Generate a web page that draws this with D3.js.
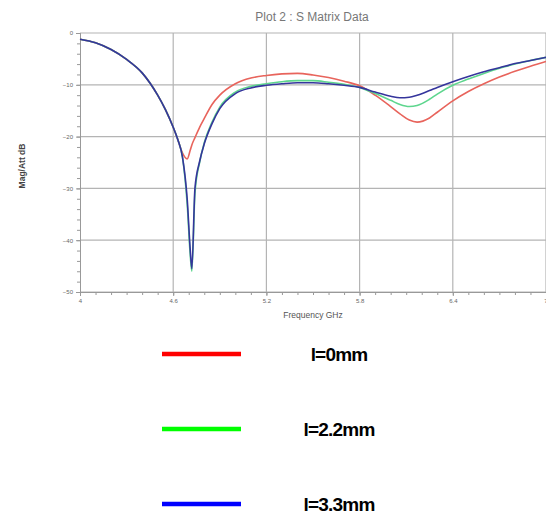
<!DOCTYPE html>
<html>
<head>
<meta charset="utf-8">
<script src="https://cdn.jsdelivr.net/npm/d3@7"></script>
<style>
  body { margin: 0; background: #fff; }
  svg { display: block; }
</style>
</head>
<body>
<svg width="546" height="515"></svg>
<script>
// frequency points (GHz) shared by all three curves
let freq = [4.0, 4.1, 4.2, 4.3, 4.4, 4.5, 4.55, 4.6, 4.63, 4.66, 4.69, 4.71, 4.72, 4.74, 4.77, 4.8, 4.85, 4.9,
  5.0, 5.1, 5.2, 5.3, 5.4, 5.5, 5.6, 5.7, 5.8, 5.9, 6.0, 6.06, 6.12, 6.17, 6.25, 6.3, 6.4, 6.5, 6.6, 6.7, 6.8, 6.9, 7.0];

let l0 = [-1.2, -1.9, -3.2, -5.1, -7.7, -12.0, -14.8, -18.2, -20.6, -23.2, -24.3, -22.6, -21.6, -20.2, -18.2, -16.5, -13.8, -12.0,
  -9.8, -8.7, -8.2, -7.9, -7.8, -8.1, -8.6, -9.3, -10.2, -12.0, -14.2, -15.6, -16.8, -17.2, -16.4, -15.3, -13.1, -11.3, -9.8, -8.5, -7.4, -6.4, -5.5];
let l22 = [-1.2, -1.9, -3.2, -5.1, -7.7, -12.0, -14.8, -18.2, -20.6, -24.0, -33.0, -43.0, -46.0, -31.0, -25.0, -21.2, -17.2, -14.3,
  -11.4, -10.3, -9.8, -9.4, -9.2, -9.2, -9.5, -9.9, -10.5, -11.7, -13.0, -13.8, -14.2, -14.0, -12.8, -11.8, -10.1, -8.9, -7.8, -6.8, -6.0, -5.3, -4.7];
let l33 = [-1.2, -1.9, -3.2, -5.1, -7.7, -12.0, -14.8, -18.2, -20.6, -24.0, -32.0, -42.0, -45.5, -30.0, -24.8, -21.4, -17.5, -14.6,
  -11.7, -10.6, -10.1, -9.8, -9.6, -9.6, -9.8, -10.1, -10.5, -11.4, -12.2, -12.5, -12.4, -12.0, -11.1, -10.5, -9.4, -8.4, -7.5, -6.7, -5.9, -5.3, -4.7];

let seriesNames = ['l=0mm', 'l=2.2mm', 'l=3.3mm'];
let xTicks = [4, 4.6, 5.2, 5.8, 6.4, 7];
let yTicks = [0, -10, -20, -30, -40, -50];

let lineColors = ['#e8645c', '#5ed68e', '#35359c'];
let legendColors = ['#ff0000', '#00ff00', '#0000ff'];

let svg = d3.select('svg');

let x = d3.scaleLinear().domain([4, 7]).range([80, 546]);
let y = d3.scaleLinear().domain([0, -50]).range([33, 292]);

// grid
svg.append('g').selectAll('line').data(xTicks.slice(1)).join('line')
  .attr('x1', d => x(d)).attr('x2', d => x(d))
  .attr('y1', y(0)).attr('y2', y(-50))
  .attr('stroke', '#b4b4b4').attr('stroke-width', 1.2);
svg.append('g').selectAll('line').data(yTicks).join('line')
  .attr('x1', x(4)).attr('x2', x(7))
  .attr('y1', d => y(d)).attr('y2', d => y(d))
  .attr('stroke', '#b4b4b4').attr('stroke-width', 1.2);

// axes with minor ticks
let yAxisMinor = d3.axisLeft(y).tickValues(d3.range(0, -51, -2)).tickSize(3).tickFormat('');
let yAxis = d3.axisLeft(y).tickValues(yTicks).tickSize(4).tickFormat(d3.format('d'));
let xAxisMinor = d3.axisBottom(x).tickValues(d3.range(40, 71, 1).map(d => d / 10)).tickSize(3).tickFormat('');
let xAxis = d3.axisBottom(x).tickValues(xTicks).tickSize(4).tickFormat(d => d);

function styleAxis(g) {
  g.select('.domain').attr('stroke', '#999');
  g.selectAll('.tick line').attr('stroke', '#999');
  g.selectAll('text').attr('fill', '#666').style('font-family', 'Liberation Sans, Arial, sans-serif').style('font-size', '6px');
}

svg.append('g').attr('transform', `translate(${x(4)},0)`).call(yAxisMinor).call(styleAxis);
svg.append('g').attr('transform', `translate(${x(4)},0)`).call(yAxis).call(styleAxis);
svg.append('g').attr('transform', `translate(0,${y(-50)})`).call(xAxisMinor).call(styleAxis);
let xg = svg.append('g').attr('transform', `translate(0,${y(-50)})`).call(xAxis).call(styleAxis);
// keep the last label inside the window
xg.selectAll('.tick text').filter(d => d === 7).attr('text-anchor', 'end').attr('dx', 1);

// curves
let line = d3.line().x((d, i) => x(freq[i])).y(d => y(d)).curve(d3.curveMonotoneX);
[l0, l22, l33].forEach(function (vals, i) {
  svg.append('path')
    .attr('d', line(vals))
    .attr('fill', 'none')
    .attr('stroke', lineColors[i])
    .attr('stroke-width', 1.6);
});

// titles
svg.append('text').attr('x', 312).attr('y', 21).attr('text-anchor', 'middle')
  .attr('fill', '#777').style('font-family', 'Liberation Sans, Arial, sans-serif').style('font-size', '12px')
  .text('Plot 2 : S Matrix Data');
svg.append('text').attr('x', 313).attr('y', 318).attr('text-anchor', 'middle')
  .attr('fill', '#555').style('font-family', 'Liberation Sans, Arial, sans-serif').style('font-size', '8.5px')
  .text('Frequency GHz');
svg.append('text').attr('transform', 'translate(25,166) rotate(-90)').attr('text-anchor', 'middle')
  .attr('fill', '#444').style('font-family', 'Liberation Sans, Arial, sans-serif').style('font-size', '8.5px')
  .style('font-weight', 'bold')
  .text('Mag/Att dB');

// legend
let legendY = d3.scalePoint().domain(seriesNames).range([354, 504]);
let lg = svg.append('g');
lg.selectAll('line').data(seriesNames).join('line')
  .attr('x1', 162).attr('x2', 241)
  .attr('y1', d => legendY(d)).attr('y2', d => legendY(d))
  .attr('stroke', (d, i) => legendColors[i]).attr('stroke-width', 4.5);
lg.selectAll('text').data(seriesNames).join('text')
  .attr('x', 339).attr('y', d => legendY(d) + 7)
  .attr('text-anchor', 'middle')
  .style('font-family', 'Liberation Sans, Arial, sans-serif').style('font-size', '19px')
  .style('font-weight', 'bold').style('letter-spacing', '-0.8px')
  .text(d => d);
</script>
</body>
</html>
